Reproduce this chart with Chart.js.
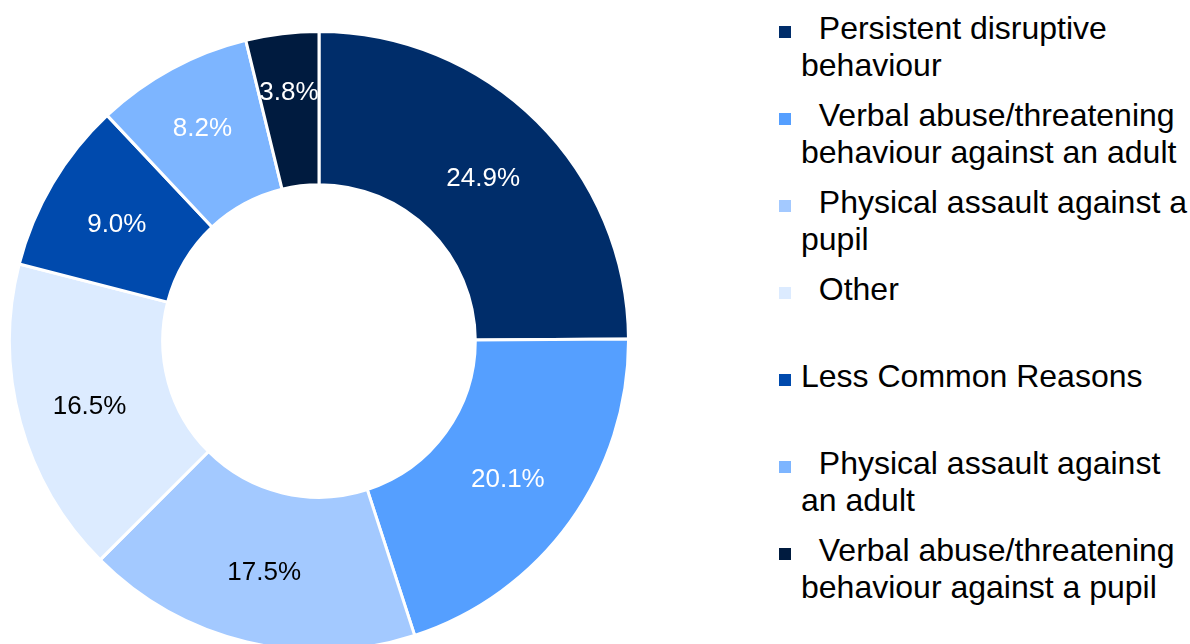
<!DOCTYPE html>
<html>
<head>
<meta charset="utf-8">
<script src="https://cdn.jsdelivr.net/npm/chart.js@4/dist/chart.umd.min.js"></script>
<style>
  html, body { margin: 0; padding: 0; background: #fff; overflow: hidden; width: 1190px; height: 644px; }
  #chartBox { position: absolute; left: 8px; top: 30px; width: 622px; height: 622px; }
  #legend { position: absolute; left: 779px; top: 10px; margin: 0; padding: 0; list-style: none;
    font-family: "Liberation Sans", Arial, sans-serif; font-size: 32px; line-height: 37px; color: #000; }
  #legend li { display: flex; align-items: flex-start; height: 87px; }
  #legend .box { width: 12px; height: 12px; margin-top: 16px; margin-right: 10px; flex: none; }
  #legend .txt { width: 395px; white-space: pre-wrap; }
</style>
</head>
<body>
<div id="chartBox"><canvas id="reasonsChart"></canvas></div>
<ul id="legend"></ul>
<script>
const categories = [
  '  Persistent disruptive behaviour',
  '  Verbal abuse/threatening behaviour against an adult',
  '  Physical assault against a pupil',
  '  Other',
  'Less Common Reasons',
  '  Physical assault against an adult',
  '  Verbal abuse/threatening behaviour against a pupil'
];
const shares = [24.9, 20.1, 17.5, 16.5, 9.0, 8.2, 3.8];

const sliceColors = ['#002d6a', '#559fff', '#a3c9ff', '#dcebff', '#004aad', '#7db5ff', '#001b3f'];
const labelColors = ['#fff', '#fff', '#000', '#000', '#fff', '#fff', '#fff'];
// small slices get their label pushed outwards a bit, like the original
const labelPush = [0, 0, 2, 5, 2, 12, 20];

// draws the percentage in the middle of each slice
const sliceLabels = {
  id: 'sliceLabels',
  afterDatasetsDraw(chart) {
    const ctx = chart.ctx;
    const meta = chart.getDatasetMeta(0);
    ctx.save();
    ctx.font = '26px "Liberation Sans", Arial, sans-serif';
    ctx.textAlign = 'center';
    ctx.textBaseline = 'middle';
    meta.data.forEach((arc, i) => {
      const { x, y, startAngle, endAngle, innerRadius, outerRadius } =
        arc.getProps(['x', 'y', 'startAngle', 'endAngle', 'innerRadius', 'outerRadius']);
      const mid = (startAngle + endAngle) / 2;
      const r = (innerRadius + outerRadius) / 2 + labelPush[i];
      ctx.fillStyle = labelColors[i];
      ctx.fillText(shares[i].toFixed(1) + '%', x + Math.cos(mid) * r, y + Math.sin(mid) * r + 3);
    });
    ctx.restore();
  }
};

const chart = new Chart(document.getElementById('reasonsChart'), {
  type: 'doughnut',
  data: {
    labels: categories,
    datasets: [{
      data: shares,
      backgroundColor: sliceColors,
      borderColor: '#ffffff',
      borderWidth: 3
    }]
  },
  options: {
    responsive: true,
    maintainAspectRatio: false,
    animation: false,
    cutout: '50.5%',
    layout: { padding: 0 },
    plugins: {
      legend: { display: false },
      tooltip: { enabled: false }
    }
  },
  plugins: [sliceLabels]
});

// html legend so the long labels can wrap
const legendEl = document.getElementById('legend');
chart.data.labels.forEach((name, i) => {
  const li = document.createElement('li');
  const box = document.createElement('span');
  box.className = 'box';
  box.style.background = sliceColors[i];
  const txt = document.createElement('span');
  txt.className = 'txt';
  txt.textContent = name;
  li.appendChild(box);
  li.appendChild(txt);
  legendEl.appendChild(li);
});
</script>
</body>
</html>
